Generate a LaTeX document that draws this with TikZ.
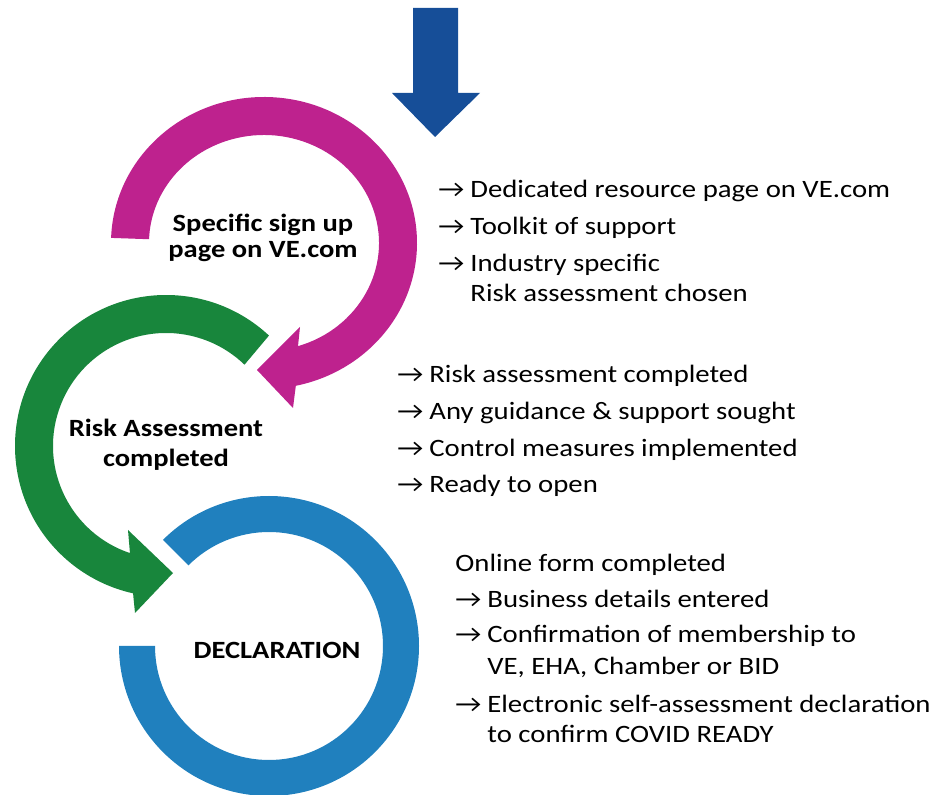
\documentclass[tikz,border=0pt]{standalone}
\usepackage{fontspec}
\setmainfont{Carlito}[FakeStretch=1.15]
\usetikzlibrary{positioning, calc}
\definecolor{vemagenta}{RGB}{190,34,142}
\definecolor{vegreen}{RGB}{24,134,60}
\definecolor{veblue}{RGB}{32,128,190}
\definecolor{vedarkblue}{RGB}{22,78,152}
\newcommand{\arw}{\makebox[16pt][l]{→}}
\newcommand{\cont}{\hspace*{16pt}}

\begin{document}
\begin{tikzpicture}[x=0.5pt, y=-0.5pt,
		stage/.style={font=\fontsize{12.4}{13}\selectfont\bfseries, align=center, inner sep=0pt},
		notes/.style={font=\fontsize{12.5}{15}\selectfont, align=left, anchor=north west, inner sep=0pt}]
			\useasboundingbox (0,0) rectangle (947,795);
			% entry arrow
			\fill[vedarkblue] (413,8) -- (458,8) -- (458,93) -- (480,93) -- (435,137) -- (392,93) -- (413,93) -- cycle;
			% ring arrows
			\fill[vemagenta] ([shift={(264,243)}]182:153 and 146) arc[start angle=182, end angle=438, x radius=153, y radius=146]
				-- (293,408) -- (257,370) -- (300,327)
				-- ([shift={(264,243)}]432.8:115 and 108) arc[start angle=432.8, end angle=182, x radius=115, y radius=108] -- cycle;
			\fill[vegreen] ([shift={(166,446)}]-47:151) arc[start angle=-47, end angle=-257.4, radius=151]
				-- (135,613) -- (173,573) -- (128,530)
				-- ([shift={(166,446)}]-251.4:113) arc[start angle=-251.4, end angle=-46, radius=113] -- cycle;
			\fill[veblue] ([shift={(269,646)}]-135:150) arc[start angle=-135, end angle=180, radius=150]
				-- ([shift={(269,646)}]180:114) arc[start angle=180, end angle=-135, radius=114] -- cycle;
			% stage labels
			\node[stage] (signup) at (263,238) {Specific sign up\\page on VE.com};
			\node[stage] (risk) at (166,445) {Risk Assessment\\[2pt]completed};
			\node[stage] (declare) at (277,650) {DECLARATION};
			% notes
			\node[notes] (signupnotes) at (438,180) {\arw Dedicated resource page on VE.com\\[3.5pt]
				\arw Toolkit of support\\[3.5pt]
				\arw Industry specific\\
				\cont Risk assessment chosen};
			\node[notes] (risknotes) at (397,365) {\arw Risk assessment completed\\[3.5pt]
				\arw Any guidance \& support sought\\[3.5pt]
				\arw Control measures implemented\\[3pt]
				\arw Ready to open};
			\node[notes] (declarenotes) at (455,554) {Online form completed\\[3pt]
				\arw Business details entered\\[2.5pt]
				\arw Confirmation of membership to\\[1pt]
				\cont VE, EHA, Chamber or BID\\[4pt]
				\arw Electronic self-assessment declaration\\
				\cont to confirm COVID READY};
		\end{tikzpicture}
\end{document}
